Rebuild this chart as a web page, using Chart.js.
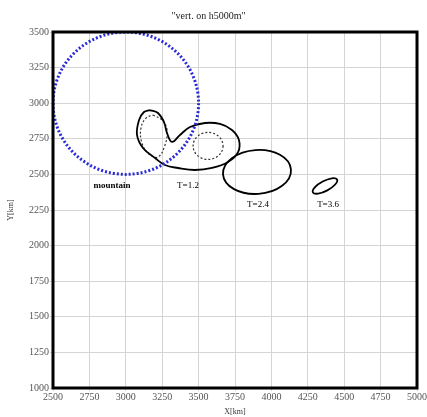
<!DOCTYPE html>
<html>
<head>
<meta charset="utf-8">
<script src="https://cdn.jsdelivr.net/npm/chart.js@4.4.1/dist/chart.umd.min.js"></script>
<style>
  html, body { margin: 0; padding: 0; background: #fff; }
  #wrap { width: 427px; height: 417px; }
</style>
</head>
<body>
<div id="wrap"><canvas id="myChart"></canvas></div>
<script>
// axis ticks
const xTicks = [2500, 2750, 3000, 3250, 3500, 3750, 4000, 4250, 4500, 4750, 5000];
const yTicks = [1000, 1250, 1500, 1750, 2000, 2250, 2500, 2750, 3000, 3250, 3500];

// T=1.2 contour (two lobes joined)
const t12X = [3166, 3221, 3262, 3283, 3317, 3372, 3441, 3544, 3647, 3729, 3777, 3771, 3702, 3592, 3475, 3359, 3269, 3201, 3118, 3077, 3091, 3125];
const t12Y = [2952, 2931, 2868, 2791, 2728, 2777, 2833, 2861, 2854, 2812, 2742, 2657, 2587, 2545, 2531, 2545, 2566, 2615, 2685, 2777, 2882, 2938];

// dashed inner contour, left lobe
const innerX = [3187, 3249, 3283, 3269, 3221, 3159, 3111, 3104, 3139];
const innerY = [2917, 2882, 2812, 2706, 2622, 2643, 2720, 2826, 2896];

// ellipse shaped contours: center, radii (km), rotation (deg)
const ellName = ['mountain', 'inner', 'T=2.4', 'T=3.6'];
const ellCx = [3000, 3565, 3901, 4368];
const ellCy = [3000, 2700, 2517, 2419];
const ellRx = [500, 103, 234, 94];
const ellRy = [500, 95, 154, 35];
const ellRot = [0, 0, -4, -28];

// text labels
const labelText = ['mountain', 'T=1.2', 'T=2.4', 'T=3.6'];
const labelX = [2905, 3427, 3908, 4389];
const labelY = [2419, 2419, 2285, 2285];

const closed = (xs, ys) => {
  const pts = xs.map((x, i) => ({ x, y: ys[i] }));
  pts.push(pts[0]);
  return pts;
};

const shapes = {
  id: 'shapes',
  afterDatasetsDraw(chart) {
    const { ctx, scales: { x, y }, chartArea } = chart;
    ctx.save();
    ctx.beginPath();
    ctx.rect(chartArea.left, chartArea.top, chartArea.right - chartArea.left, chartArea.bottom - chartArea.top);
    ctx.clip();
    ellName.forEach((name, i) => {
      const cx = x.getPixelForValue(ellCx[i]);
      const cy = y.getPixelForValue(ellCy[i]);
      const rx = Math.abs(x.getPixelForValue(ellCx[i] + ellRx[i]) - cx);
      const ry = Math.abs(y.getPixelForValue(ellCy[i] + ellRy[i]) - cy);
      ctx.beginPath();
      ctx.ellipse(cx, cy, rx, ry, ellRot[i] * Math.PI / 180, 0, Math.PI * 2);
      if (name === 'mountain') {
        ctx.strokeStyle = '#2a2ad8';
        ctx.lineWidth = 3;
        ctx.setLineDash([2, 2]);
      } else if (name === 'inner') {
        ctx.strokeStyle = '#333';
        ctx.lineWidth = 1.2;
        ctx.setLineDash([2, 2]);
      } else {
        ctx.strokeStyle = '#000';
        ctx.lineWidth = 1.8;
        ctx.setLineDash([]);
      }
      ctx.stroke();
    });
    ctx.restore();

    ctx.save();
    ctx.fillStyle = '#000';
    ctx.textAlign = 'center';
    ctx.textBaseline = 'middle';
    labelText.forEach((t, i) => {
      ctx.font = (t === 'mountain' ? 'bold ' : '') + '9px "Liberation Serif", serif';
      ctx.fillText(t, x.getPixelForValue(labelX[i]), y.getPixelForValue(labelY[i]));
    });
    ctx.restore();
  },
  afterDraw(chart) {
    const { ctx, chartArea: a } = chart;
    ctx.save();
    ctx.strokeStyle = '#000';
    ctx.lineWidth = 3;
    ctx.strokeRect(a.left, a.top, a.right - a.left, a.bottom - a.top);
    ctx.restore();
  }
};

const tickFont = { family: '"Liberation Serif", serif', size: 10 };
const titleFont = { family: '"Liberation Serif", serif', size: 8 };

const ctx = document.getElementById('myChart').getContext('2d');
new Chart(ctx, {
  type: 'scatter',
  data: {
    datasets: [
      {
        label: 'T=1.2',
        data: closed(t12X, t12Y),
        showLine: true,
        tension: 0.4,
        borderColor: '#000',
        borderWidth: 1.8,
        pointRadius: 0
      },
      {
        label: 'inner',
        data: closed(innerX, innerY),
        showLine: true,
        tension: 0.4,
        borderColor: '#333',
        borderWidth: 1.2,
        borderDash: [2, 2],
        pointRadius: 0
      }
    ]
  },
  options: {
    responsive: true,
    maintainAspectRatio: false,
    animation: false,
    layout: { padding: { left: 0, right: 10, top: 0, bottom: 0 } },
    plugins: {
      legend: { display: false },
      tooltip: { enabled: false },
      title: {
        display: true,
        text: '"vert. on h5000m"',
        color: '#222',
        font: { family: '"Liberation Serif", serif', size: 10, weight: 'normal' },
        padding: { top: 10, bottom: 10 }
      }
    },
    scales: {
      x: {
        type: 'linear',
        min: 2500,
        max: 5000,
        afterBuildTicks: s => { s.ticks = xTicks.map(v => ({ value: v })); },
        afterFit: s => { s.height = 29; },
        ticks: {
          autoSkip: false,
          maxRotation: 0,
          color: '#555',
          padding: 0,
          font: tickFont,
          callback: v => String(v)
        },
        grid: { color: '#d4d4d4', tickLength: 3 },
        border: { display: false },
        title: {
          display: true,
          text: 'X[km]',
          color: '#333',
          padding: 0,
          font: titleFont
        }
      },
      y: {
        type: 'linear',
        min: 1000,
        max: 3500,
        afterBuildTicks: s => { s.ticks = yTicks.map(v => ({ value: v })); },
        afterFit: s => { s.width = 53; },
        ticks: {
          autoSkip: false,
          color: '#555',
          padding: 1,
          font: tickFont,
          callback: v => String(v)
        },
        grid: { color: '#d4d4d4', tickLength: 3 },
        border: { display: false },
        title: {
          display: true,
          text: 'Y[km]',
          color: '#333',
          padding: { top: 6, bottom: 0 },
          font: titleFont
        }
      }
    }
  },
  plugins: [shapes]
});
</script>
</body>
</html>
